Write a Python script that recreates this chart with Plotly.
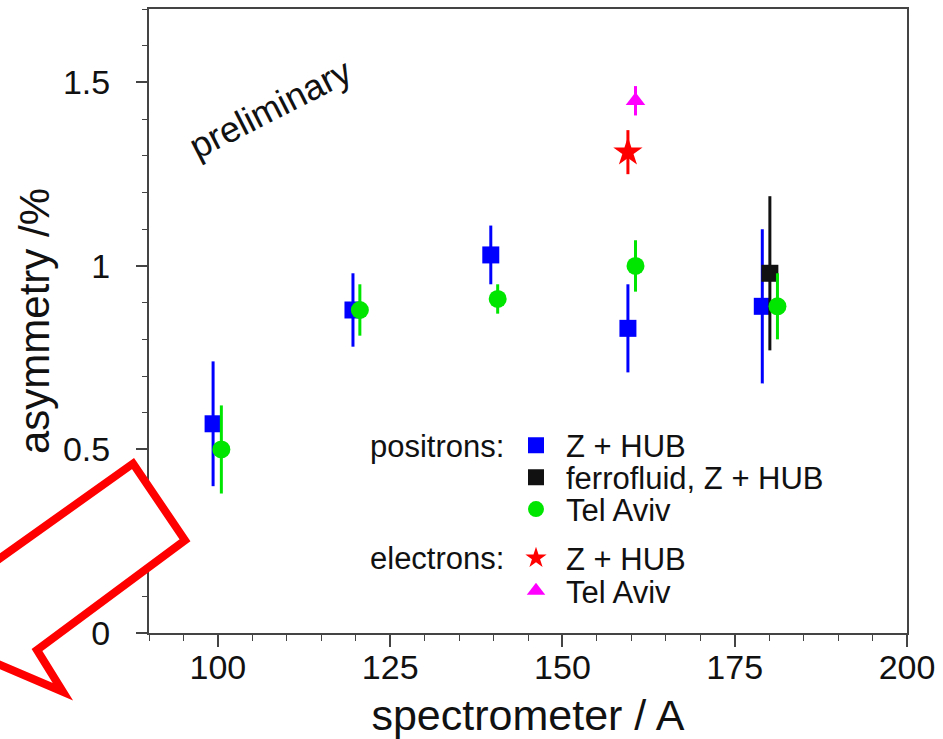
import plotly.graph_objects as go

# ---- data ----
pos_zhub_x = [99.3, 119.6, 139.6, 159.5, 179.0]
pos_zhub_y = [0.57, 0.88, 1.03, 0.83, 0.89]
pos_zhub_err = [0.17, 0.10, 0.08, 0.12, 0.21]

pos_ferro_x = [180.1]
pos_ferro_y = [0.98]
pos_ferro_err = [0.21]

pos_telaviv_x = [100.5, 120.6, 140.6, 160.6, 181.2]
pos_telaviv_y = [0.50, 0.88, 0.91, 1.00, 0.89]
pos_telaviv_err = [0.12, 0.07, 0.04, 0.07, 0.09]

ele_zhub_x = [159.5]
ele_zhub_y = [1.31]
ele_zhub_err = [0.06]

ele_telaviv_x = [160.6]
ele_telaviv_y = [1.45]
ele_telaviv_err = [0.04]

x_tickvals = [100, 125, 150, 175, 200]
y_tickvals = [0, 0.5, 1, 1.5]
y_ticktext = ["0", "0.5", "1", "1.5"]

FONT = "Liberation Sans, Arial, Helvetica, sans-serif"
AX = "#444444"

series = [
    dict(x=pos_zhub_x, y=pos_zhub_y, e=pos_zhub_err, name="Z + HUB", color="#0000ff",
         symbol="square", size=17, legend="legend"),
    dict(x=pos_ferro_x, y=pos_ferro_y, e=pos_ferro_err, name="ferrofluid, Z + HUB", color="#111111",
         symbol="square", size=17, legend="legend2"),
    dict(x=pos_telaviv_x, y=pos_telaviv_y, e=pos_telaviv_err, name="Tel Aviv", color="#00e600",
         symbol="circle", size=18, legend="legend3"),
    dict(x=ele_zhub_x, y=ele_zhub_y, e=ele_zhub_err, name="Z + HUB", color="#ff0000",
         symbol="star", size=22, legend="legend4"),
    dict(x=ele_telaviv_x, y=ele_telaviv_y, e=ele_telaviv_err, name="Tel Aviv", color="#ff00ff",
         symbol="triangle-up", size=17, legend="legend5"),
]

fig = go.Figure()
for s in series:
    fig.add_trace(go.Scatter(
        x=s["x"], y=s["y"], mode="markers", name=s["name"], legend=s["legend"],
        marker=dict(symbol=s["symbol"], size=s["size"], color=s["color"], line=dict(width=0)),
        error_y=dict(type="data", array=s["e"], visible=True, color=s["color"], thickness=3, width=0),
    ))

W, H = 943, 739
ML, MR, MT, MB = 149, 36, 7, 106
pw, ph = W - ML - MR, H - MT - MB


def px(xp):
    return (xp - ML) / pw


def py(yp):
    return (H - MB - yp) / ph


legend_rows = {"legend": 445, "legend2": 477, "legend3": 509, "legend4": 558, "legend5": 591}
leg_font = dict(family=FONT, size=31, color="#111111")
legend_layouts = {}
for key, row in legend_rows.items():
    legend_layouts[key] = dict(
        x=px(506), y=py(row), xanchor="left", yanchor="middle",
        bgcolor="rgba(0,0,0,0)", borderwidth=0, font=leg_font, itemwidth=50,
    )

fig.update_layout(
    width=W, height=H,
    margin=dict(l=ML, r=MR, t=MT, b=MB, pad=0),
    paper_bgcolor="white", plot_bgcolor="white",
    font=dict(family=FONT, color="#111111"),
    showlegend=True,
    **legend_layouts,
    xaxis=dict(
        range=[90, 200], tickvals=x_tickvals, ticks="outside", ticklen=12, tickwidth=1.5,
        tickcolor=AX, showline=True, linecolor=AX, linewidth=2, mirror=True,
        showgrid=False, zeroline=False, ticklabelstandoff=-9,
        tickfont=dict(family=FONT, size=34, color="#111111"),
        minor=dict(dtick=5, ticks="outside", ticklen=6, tickwidth=1.2, tickcolor=AX, showgrid=False),
        title=dict(text="spectrometer / A", font=dict(family=FONT, size=43, color="#111111"), standoff=15),
    ),
    yaxis=dict(
        range=[0, 1.70], tickvals=y_tickvals, ticktext=y_ticktext, ticks="outside", ticklen=11,
        tickwidth=1.5, tickcolor=AX, showline=True, linecolor=AX, linewidth=2, mirror=True,
        showgrid=False, zeroline=False, ticklabelstandoff=19,
        tickfont=dict(family=FONT, size=34, color="#111111"),
        minor=dict(dtick=0.1, ticks="outside", ticklen=5, tickwidth=1.2, tickcolor=AX, showgrid=False),
        title=dict(text="asymmetry /%", font=dict(family=FONT, size=42, color="#111111"), standoff=0),
    ),
)

# group labels of the legend
for label, row in [("positrons:", 446), ("electrons:", 558)]:
    fig.add_annotation(text=label, xref="paper", yref="paper", x=px(368), y=py(row),
                       xanchor="left", yanchor="middle", showarrow=False,
                       font=dict(family=FONT, size=31, color="#111111"))

fig.add_annotation(text="preliminary", x=107.6, y=1.43, xref="x", yref="y", showarrow=False,
                   textangle=-27, font=dict(family=FONT, size=36, color="#111111"))

# red callout arrow overlaid on the picture (decoration)
pts = [(133, 463), (185, 540), (37, 650), (63, 692), (-42, 647), (-55, 534), (-21, 573)]
path = "M " + " L ".join(f"{px(a):.4f},{py(b):.4f}" for a, b in pts) + " Z"
fig.add_shape(type="path", path=path, xref="paper", yref="paper", layer="above",
              line=dict(color="#ff0000", width=8), fillcolor="white")

fig.write_html("out.html", config={"displayModeBar": False},
               post_script="document.body.style.margin='0';document.body.style.overflow='hidden';")
